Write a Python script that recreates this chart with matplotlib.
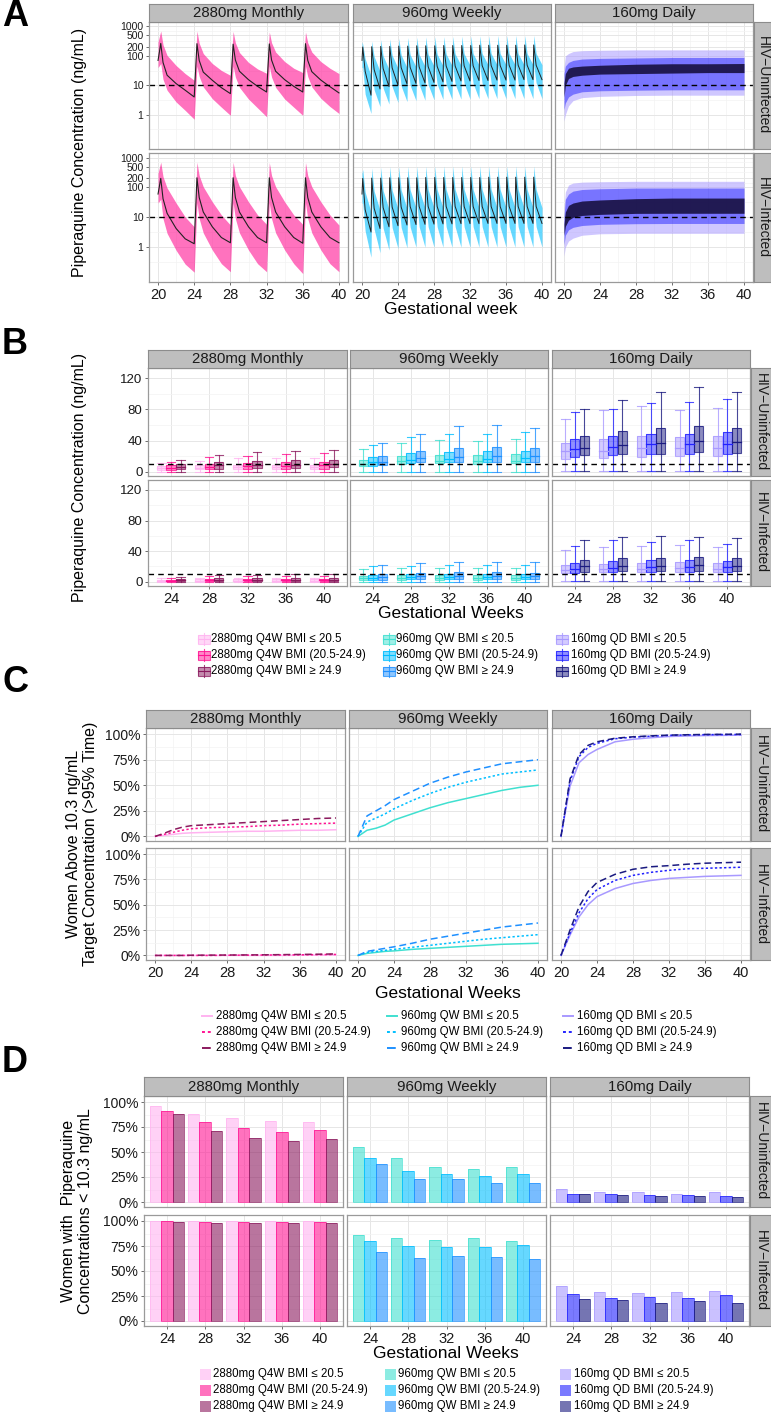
import matplotlib.pyplot as plt
from matplotlib.patches import Rectangle

plt.rcParams['font.family'] = ['Liberation Sans', 'DejaVu Sans']

W, H = 771, 1414

# ---------------- labels ----------------
regimens = ['2880mg Monthly', '960mg Weekly', '160mg Daily']
hiv_groups = ['HIV\u2212Uninfected', 'HIV\u2212Infected']
legend_labels = [
    ['2880mg Q4W BMI \u2264 20.5', '2880mg Q4W BMI (20.5-24.9)', '2880mg Q4W BMI \u2265 24.9'],
    ['960mg QW BMI \u2264 20.5', '960mg QW BMI (20.5-24.9)', '960mg QW BMI \u2265 24.9'],
    ['160mg QD BMI \u2264 20.5', '160mg QD BMI (20.5-24.9)', '160mg QD BMI \u2265 24.9'],
]
pal = [['#FFB3F0', '#FF1493', '#8B1A5E'],
       ['#40E0D0', '#00BFFF', '#1E90FF'],
       ['#A899FF', '#2222FF', '#1A1A80']]

# ---------------- panel A data ----------------
# monthly: dose weeks, offsets after dose (weeks), values [at dose, peak, +0.55, +1, +2, +3, +4]
m_doses = [20, 24, 28, 32, 36]
m_offsets = [0, 0.3, 0.55, 1, 2, 3, 4]
mu_med = [[70, 265, 60, 22, 11.4, 6.8, 4.0], [4.0, 260, 70, 28, 14.8, 8.3, 5.2], [5.2, 250, 72, 30, 15.5, 9.2, 5.9],
          [5.9, 255, 72, 30, 15.5, 9.2, 5.9], [5.9, 260, 70, 29, 15, 9, 5.5]]
mu_hi = [[300, 700, 240, 104, 47, 25, 14.8], [14.8, 700, 270, 120, 55, 32, 21.8], [21.8, 680, 280, 130, 60, 36, 25.6],
         [25.6, 650, 280, 135, 64, 38, 27], [27, 650, 280, 135, 64, 38, 25]]
mu_lo = [[40, 55, 16, 6.8, 2.7, 1.4, 0.7], [0.7, 45, 20, 8.8, 3.5, 1.8, 0.95], [0.95, 45, 19, 8.5, 3.4, 1.7, 0.85],
         [0.85, 45, 19, 8.5, 3.4, 1.8, 0.95], [0.95, 45, 20, 8.8, 3.6, 1.9, 1.1]]
mi_med = [[60, 200, 42, 13.6, 4.2, 1.9, 1.3], [1.3, 210, 46, 15, 4.8, 2.1, 1.4], [1.4, 210, 46, 15, 4.8, 2.1, 1.4],
          [1.4, 210, 46, 15, 4.8, 2.1, 1.35], [1.35, 210, 46, 15, 4.8, 2.1, 1.4]]
mi_hi = [[300, 700, 230, 96, 30, 10.2, 4.8], [4.8, 700, 250, 105, 33, 12, 5.5], [5.5, 700, 250, 105, 33, 12, 5.8],
         [5.8, 680, 250, 105, 33, 12, 5.8], [5.8, 680, 250, 105, 33, 12, 5.5]]
mi_lo = [[30, 40, 9, 2.9, 0.78, 0.27, 0.145], [0.145, 30, 9, 3.0, 0.8, 0.28, 0.15], [0.15, 30, 9, 3.0, 0.8, 0.28, 0.15],
         [0.15, 30, 9, 3.0, 0.8, 0.28, 0.13], [0.13, 30, 9, 3.0, 0.8, 0.28, 0.15]]

# weekly: per dose peak, mid-interval and trough values
w_doses = [20, 21, 22, 23, 24, 25, 26, 27, 28, 29, 30, 31, 32, 33, 34, 35, 36, 37, 38, 39]
wu_start = [70, 300, 40]  # med, hi, lo at week 20
wu_med = [[200, 205, 210, 210, 215, 215, 220, 220, 220, 225, 225, 225, 225, 230, 230, 230, 230, 230, 235, 235],
          [30, 34, 37, 39, 40, 41, 42, 43, 44, 45, 45, 46, 46, 47, 47, 47, 48, 48, 48, 48],
          [4.6, 7.5, 9, 10, 11, 11.5, 12, 12.5, 13, 13.5, 14, 14, 14.5, 14.5, 15, 15, 15, 15.5, 15.5, 15.5]]
wu_hi = [[250, 320, 360, 380, 400, 420, 430, 440, 450, 450, 460, 470, 480, 480, 490, 500, 500, 500, 500, 500],
         [80, 95, 100, 105, 108, 110, 112, 114, 115, 116, 117, 118, 119, 120, 120, 120, 120, 120, 120, 120],
         [21, 30, 35, 38, 40, 42, 44, 45, 46, 47, 48, 48, 49, 50, 50, 50, 50, 50, 50, 50]]
wu_lo = [[40, 42, 44, 45, 46, 47, 48, 48, 49, 49, 50, 50, 50, 50, 50, 50, 50, 50, 50, 50],
         [5, 7, 8, 9, 9.5, 10, 10.5, 10.5, 11, 11, 11, 11.5, 11.5, 11.5, 12, 12, 12, 12, 12, 12],
         [1.1, 1.9, 2.3, 2.6, 2.8, 3.0, 3.1, 3.2, 3.3, 3.3, 3.4, 3.4, 3.5, 3.5, 3.5, 3.5, 3.5, 3.5, 3.5, 3.5]]
wi_start = [60, 300, 30]
wi_med = [[200, 205, 205, 210, 210, 210, 210, 215, 215, 215, 215, 215, 215, 215, 220, 220, 220, 220, 220, 220],
          [18, 20, 21, 22, 22, 23, 23, 23, 23, 23, 23, 23, 23, 23, 23, 23, 23, 23, 23, 23],
          [3.2, 4.2, 4.8, 5.2, 5.5, 5.7, 5.8, 5.9, 6.0, 6.0, 6.1, 6.1, 6.1, 6.2, 6.2, 6.2, 6.2, 6.2, 6.2, 6.2]]
wi_hi = [[400, 450, 480, 500, 500, 510, 510, 510, 520, 520, 520, 520, 520, 520, 520, 520, 520, 520, 520, 520],
         [70, 75, 78, 80, 82, 83, 84, 84, 85, 85, 85, 85, 85, 85, 85, 85, 85, 85, 85, 85],
         [15, 17, 18.5, 19.5, 20, 20.5, 20.7, 21, 21, 21, 21, 21, 21, 21, 21, 21, 21, 21, 21, 21]]
wi_lo = [[30, 30, 32, 32, 33, 33, 34, 34, 34, 34, 35, 35, 35, 35, 35, 35, 35, 35, 35, 35],
         [3.5, 4, 4.3, 4.5, 4.6, 4.7, 4.8, 4.8, 4.8, 4.8, 4.8, 4.8, 4.8, 4.8, 4.8, 4.8, 4.8, 4.8, 4.8, 4.8],
         [0.46, 0.65, 0.8, 0.9, 0.95, 1.0, 1.0, 1.0, 1.0, 1.0, 1.0, 1.0, 1.0, 1.0, 1.0, 1.0, 1.0, 1.0, 1.0, 1.0]]

# daily: envelopes of the bands
d_times = [20, 20.15, 20.5, 21, 22, 24, 28, 32, 36, 40]
du_outer = [[0.6, 1.0, 2.0, 3.0, 3.8, 4.2, 4.5, 4.6, 4.6, 4.6], [40, 100, 120, 140, 150, 155, 160, 160, 160, 160]]
du_inner = [[1.5, 2.5, 4.0, 5.0, 6.0, 6.5, 6.8, 7.0, 7.0, 7.0], [25, 45, 60, 70, 78, 82, 85, 88, 88, 88]]
du_med = [[4, 10, 17, 20, 22, 24, 25, 26, 27, 27], [12, 25, 38, 42, 45, 48, 52, 54, 54, 55]]
di_outer = [[0.5, 1.0, 1.6, 2.0, 2.5, 2.8, 2.9, 2.9, 2.9, 2.9], [20, 70, 120, 140, 150, 155, 160, 160, 160, 160]]
di_inner = [[1.2, 2.5, 3.8, 4.6, 5.3, 5.8, 6.1, 6.2, 6.2, 6.2], [10, 40, 60, 75, 85, 90, 95, 95, 95, 95]]
di_med = [[2.5, 5, 8, 10, 11.5, 12.5, 13.5, 13.6, 13.6, 13.6], [6, 15, 25, 30, 35, 38, 42, 44, 44, 44]]

# ---------------- panel B data: [low, q1, median, q3, high] per week ----------------
b_weeks = ['24', '28', '32', '36', '40']
bu_2880 = [
    [[0, 2.5, 4.5, 7, 11], [0, 3, 5, 8, 14], [0, 3, 5.5, 8.5, 18], [0, 3, 5.5, 8.5, 18], [0, 3, 5.5, 8.5, 18]],
    [[0, 2.5, 5, 8.5, 13], [0, 3, 6.5, 10, 18.5], [0, 3.5, 7, 11, 20.5], [0, 4, 7.5, 12, 22.5], [0, 4, 8, 13, 23.5]],
    [[0, 3, 6, 10.5, 15.5], [0, 4, 8, 12, 22], [0, 4.5, 8.5, 13.5, 25], [0, 5, 9, 14.5, 26], [0, 5.5, 10, 15, 27.5]]]
bu_960 = [
    [[0, 7, 10.5, 15, 29], [0, 10, 13.5, 20, 37], [0, 11, 14, 21, 41], [0, 10, 13.5, 21, 40], [0, 11, 14, 23, 42]],
    [[0, 7, 12, 19, 34], [0, 11, 15, 24, 45], [0, 12, 16, 25, 48], [0, 12, 16.5, 26, 49], [0, 13, 17, 27, 51]],
    [[0, 9, 13, 20, 37], [0, 12, 18, 27, 49], [0, 12, 19, 31, 59], [0, 13, 20, 32, 60], [0, 13, 20, 31, 56]]]
bu_160 = [
    [[1, 16, 26, 37, 68], [1, 17, 26, 42, 79], [1, 19, 30, 46, 84], [1, 20, 31, 45, 79], [1, 20, 31, 46, 82]],
    [[1, 19, 29, 42, 77], [1, 21, 32, 46, 81], [1, 23, 35, 49, 88], [1, 23, 35, 49, 89], [1, 23, 36, 51, 93]],
    [[1, 21, 31, 46, 81], [1.5, 23, 34, 52, 92], [1.5, 23, 37, 56, 102], [1, 25, 40, 59, 109], [1, 24, 38, 56, 102]]]
bi_2880 = [
    [[0, 0.5, 1.5, 2.5, 4.5], [0, 0.5, 1.5, 3, 5], [0, 0.5, 1.5, 3, 5], [0, 0.5, 1.5, 3, 5], [0, 0.5, 1.5, 3, 5]],
    [[0, 0.5, 1.5, 2.7, 5.4], [0, 0.7, 2, 3.5, 7], [0, 0.8, 2, 3.6, 7.5], [0, 0.8, 2.2, 3.8, 8], [0, 0.8, 2.2, 4, 8]],
    [[0, 0.5, 1.8, 3.6, 6.7], [0, 0.8, 2.5, 4.5, 9], [0, 0.9, 2.6, 4.8, 9.5], [0, 1, 2.8, 5, 10], [0, 1, 2.8, 5, 10]]]
bi_960 = [
    [[0, 2, 4.5, 8, 17], [0, 2.5, 5, 8.5, 18], [0, 2.5, 5, 8.5, 18.5], [0, 2.5, 5, 8.5, 18.5], [0, 2.5, 5, 8.5, 18]],
    [[0, 2.7, 5, 9, 20], [0, 3, 6, 10, 21], [0, 3, 6, 10, 21.5], [0, 3, 6, 10, 22], [0, 3, 6, 10, 22]],
    [[0, 2.7, 6, 10.3, 21.5], [0, 3.5, 7, 12, 25], [0, 3.5, 7.5, 12.5, 26.4], [0, 3.5, 7.5, 12.5, 26], [0, 3.5, 7.5, 12, 25.5]]]
bi_160 = [
    [[1, 11.6, 16, 22, 41], [1, 12.5, 17, 23.7, 45], [1, 12.5, 17, 25, 46.6], [1, 12.5, 17.5, 25.5, 48], [1, 12.5, 17, 24.5, 45]],
    [[1, 11.6, 17, 25, 47], [1, 12.5, 18.4, 27.8, 54], [1, 13, 19, 28.5, 52], [1, 13, 19.5, 29, 55], [1, 13, 19, 27, 50]],
    [[1, 13, 20, 29, 54], [1, 14, 20.6, 31, 58], [1, 14, 21, 31, 60], [1, 14.5, 21.5, 32, 58.7], [1, 14.5, 21, 31, 57]]]

# ---------------- panel C data: % women above target ----------------
c_weeks = [20, 21, 22, 23, 24, 26, 28, 30, 32, 34, 36, 38, 40]
cu_2880 = [[0, 1, 2, 3, 3.5, 4, 4.5, 5, 5, 5.5, 6, 6, 6.5],
           [0, 2, 4, 6, 7.5, 8.5, 9, 9.5, 10.5, 11, 12, 12.5, 13],
           [0, 3, 6.5, 9, 10.5, 11.5, 12.5, 13.5, 14.5, 15.5, 16.5, 17.5, 18]]
cu_960 = [[0, 6, 8, 11, 16, 22, 28, 33, 37, 41, 45, 48, 50],
          [0, 14, 18, 22, 27, 35, 42, 48, 53, 57, 61, 63, 65],
          [0, 20, 25, 30, 36, 44, 52, 58, 63, 67, 71, 73, 75]]
cu_160 = [[0, 49, 72, 80, 85, 92.5, 95, 96.5, 97.7, 98.2, 98.6, 98.8, 99],
          [0, 54, 78, 87, 91, 95.5, 97, 98, 98.8, 99.2, 99.5, 99.6, 99.7],
          [0, 56, 80, 89, 92.5, 96, 97.4, 98.3, 99, 99.4, 99.7, 99.8, 100]]
ci_2880 = [[0, 0, 0, 0, 0, 0, 0, 0, 0, 0, 0.2, 0.3, 0.4],
           [0, 0, 0, 0, 0, 0, 0.2, 0.3, 0.4, 0.5, 0.6, 0.8, 1.0],
           [0, 0, 0, 0, 0.2, 0.3, 0.4, 0.5, 0.6, 0.8, 1.0, 1.2, 1.5]]
ci_960 = [[0, 2, 3, 4, 4.5, 6, 7, 8, 9, 10, 11, 11.5, 12],
          [0, 3, 4, 5, 6, 8, 10, 12, 14, 16, 17.5, 19, 20.5],
          [0, 4, 5.5, 7, 8.5, 12, 16, 19, 22, 25, 28, 30, 32]]
ci_160 = [[0, 20, 38, 50, 58, 66, 71, 74, 76, 77, 78, 78.5, 79],
          [0, 22, 42, 56, 65, 74, 79, 82, 84, 85.5, 86, 86.5, 87],
          [0, 25, 48, 63, 72, 80, 85, 87.5, 88.6, 90, 91, 91.5, 92]]

# ---------------- panel D data: % women below target ----------------
d_weeks = ['24', '28', '32', '36', '40']
du_2880 = [[96, 88, 84, 81, 80], [91, 80, 74, 70, 72], [88, 71, 64, 61, 63]]
du_960 = [[54.7, 43.7, 35, 32.7, 34.7], [44, 31, 28, 26, 28], [38, 22.7, 23, 19, 19]]
du_160 = [[13, 10, 9.7, 8, 10], [8, 8, 7, 7, 6], [7.7, 7, 5.7, 6, 5]]
di_2880 = [[100, 100, 100, 100, 100], [99.7, 99, 99, 98.7, 98.7], [99, 98, 98.5, 98, 98]]
di_960 = [[86, 83, 80.7, 82.7, 80], [80, 75, 74, 74, 75.7], [69, 63, 65, 64, 62]]
di_160 = [[35, 28.7, 28.3, 29, 29.7], [27, 23, 24, 23, 26], [22, 20.7, 18.3, 20, 18.3]]

# ---------------- helpers ----------------
fig = plt.figure(figsize=(W / 100, H / 100), dpi=100)
LEG_SIZE = 8.3


def px_axes(x0, y0, x1, y1):
    return fig.add_axes([x0 / W, 1 - y1 / H, (x1 - x0) / W, (y1 - y0) / H])


def style(ax, left, bottom, ysize=9.5):
    for s in ax.spines.values():
        s.set_color('#9a9a9a')
        s.set_linewidth(0.9)
    ax.grid(True, which='major', color='#e6e6e6', lw=0.7)
    ax.grid(True, which='minor', color='#f3f3f3', lw=0.5)
    ax.set_axisbelow(True)
    ax.tick_params(which='major', length=2.5, width=0.6, color='#555555', labelcolor='#1a1a1a', pad=1.5)
    ax.tick_params(axis='x', labelsize=10.5)
    ax.tick_params(axis='y', labelsize=ysize)
    ax.tick_params(which='minor', length=0)
    ax.tick_params(left=left, labelleft=left, bottom=bottom, labelbottom=bottom)


def strip(x0, y0, x1, y1, text, rot=0, size=10.8):
    s = px_axes(x0, y0, x1, y1)
    s.set_xticks([])
    s.set_yticks([])
    s.set_facecolor('#bebebe')
    for sp in s.spines.values():
        sp.set_color('#8c8c8c')
        sp.set_linewidth(0.8)
    s.text(0.5, 0.5, text, ha='center', va='center', rotation=rot, fontsize=size,
           color='#1a1a1a', transform=s.transAxes)


def strips(cols, top, rows, rx0):
    for (x0, x1), name in zip(cols, regimens):
        strip(x0, top, x1, rows[0][0], name)
    for (y0, y1), name in zip(rows, hiv_groups):
        strip(rx0, y0, W, y1, name, rot=-90, size=10)


ov = fig.add_axes([0, 0, 1, 1], zorder=10)
ov.set_xlim(0, W)
ov.set_ylim(H, 0)
ov.axis('off')
ov.patch.set_alpha(0)

# ---------------- panel A ----------------
A_cols = [(149, 348), (353, 551), (555, 753)]
A_rows = [(22, 149), (153, 282)]


def monthly_curve(vals):
    t, v = [], []
    for d, row in zip(m_doses, vals):
        for o, x in zip(m_offsets, row):
            t.append(d + o)
            v.append(x)
    return t, v


def weekly_curve(start, vals):
    t, v = [20], [start]
    for d, p, m, tr in zip(w_doses, vals[0], vals[1], vals[2]):
        t += [d + 0.08, d + 0.35, d + 1]
        v += [p, m, tr]
    return t, v


A_data = [
    [(mu_lo, mu_med, mu_hi), (wu_start, wu_lo, wu_med, wu_hi), (du_outer, du_inner, du_med)],
    [(mi_lo, mi_med, mi_hi), (wi_start, wi_lo, wi_med, wi_hi), (di_outer, di_inner, di_med)],
]

for r, (y0, y1) in enumerate(A_rows):
    for c, (x0, x1) in enumerate(A_cols):
        ax = px_axes(x0, y0, x1, y1)
        ax.set_yscale('log')
        if c == 0:
            lo, med, hi = A_data[r][0]
            t, vlo = monthly_curve(lo)
            _, vhi = monthly_curve(hi)
            _, vmed = monthly_curve(med)
            ax.fill_between(t, vlo, vhi, color=pal[0][1], alpha=0.6, lw=0)
            ax.plot(t, vmed, color='#222222', lw=0.8)
        elif c == 1:
            start, lo, med, hi = A_data[r][1]
            t, vlo = weekly_curve(start[2], lo)
            _, vhi = weekly_curve(start[1], hi)
            _, vmed = weekly_curve(start[0], med)
            ax.fill_between(t, vlo, vhi, color=pal[1][1], alpha=0.6, lw=0)
            ax.plot(t, vmed, color='#222222', lw=0.7)
        else:
            outer, inner, med = A_data[r][2]
            ax.fill_between(d_times, outer[0], outer[1], color=pal[2][0], alpha=0.55, lw=0)
            ax.fill_between(d_times, inner[0], inner[1], color=pal[2][1], alpha=0.5, lw=0)
            ax.fill_between(d_times, med[0], med[1], color='#120a35', alpha=0.85, lw=0)
        ax.axhline(10, color='black', lw=1.0, ls=(0, (4, 3)))
        ax.set_xlim(19, 41)
        ax.set_ylim(0.068, 1420)
        ax.set_xticks([20, 24, 28, 32, 36, 40])
        ax.set_xticks([22, 26, 30, 34, 38], minor=True)
        ax.set_yticks([1, 10, 100, 200, 500, 1000])
        ax.set_yticklabels(['1', '10', '100', '200', '500', '1000'])
        ax.set_yticks([0.316, 3.16, 31.6, 141, 316, 707], minor=True)
        ax.set_yticklabels([], minor=True)
        style(ax, c == 0, r == 1, ysize=7.5)
strips(A_cols, 4, A_rows, 754)
ov.text(2, 16, 'A', fontsize=26, fontweight='bold', va='center', ha='left')
ov.text(80, 152, 'Piperaquine Concentration (ng/mL)', rotation=90, ha='center', va='center', fontsize=11.5)
ov.text(451, 310, 'Gestational week', ha='center', va='center', fontsize=12.5)

# ---------------- panel B ----------------
B_cols = [(148, 347), (350, 548), (552, 750)]
B_rows = [(368, 476), (480, 586)]
B_data = [[bu_2880, bu_960, bu_160], [bi_2880, bi_960, bi_160]]
offs = [-0.25, 0, 0.25]

for r, (y0, y1) in enumerate(B_rows):
    for c, (x0, x1) in enumerate(B_cols):
        ax = px_axes(x0, y0, x1, y1)
        for k in range(3):
            col = pal[c][k]
            for j, st in enumerate(B_data[r][c][k]):
                xc = j + 1 + offs[k]
                lo, q1, me, q3, hi = st
                ax.plot([xc, xc], [lo, hi], color=col, lw=0.8, alpha=0.8)
                ax.plot([xc - 0.11, xc + 0.11], [hi, hi], color=col, lw=0.8, alpha=0.8)
                ax.plot([xc - 0.11, xc + 0.11], [lo, lo], color=col, lw=0.8, alpha=0.8)
                ax.add_patch(Rectangle((xc - 0.12, q1), 0.24, q3 - q1, fc=col, alpha=0.5, ec='none'))
                ax.add_patch(Rectangle((xc - 0.12, q1), 0.24, q3 - q1, fc='none', ec=col, lw=0.8, alpha=0.8))
                ax.plot([xc - 0.12, xc + 0.12], [me, me], color=col, lw=0.9)
        ax.axhline(10.3, color='black', lw=1.0, ls=(0, (4, 3)))
        ax.set_xlim(0.4, 5.6)
        ax.set_ylim(-5.5, 133)
        ax.set_xticks([1, 2, 3, 4, 5])
        ax.set_xticklabels(b_weeks)
        ax.set_yticks([0, 40, 80, 120])
        ax.set_yticks([20, 60, 100], minor=True)
        style(ax, c == 0, r == 1)
strips(B_cols, 350, B_rows, 751)
ov.text(2, 345, 'B', fontsize=26, fontweight='bold', va='center', ha='left')
ov.text(80, 477, 'Piperaquine Concentration (ng/mL)', rotation=90, ha='center', va='center', fontsize=11.5)
ov.text(451, 614, 'Gestational Weeks', ha='center', va='center', fontsize=12.5)

leg_x = [(198, 211), (383, 396), (556, 571)]
for c, (kx, tx) in enumerate(leg_x):
    for k, ky in enumerate([639, 655, 671]):
        col = pal[c][k]
        ov.plot([kx + 6, kx + 6], [ky - 6, ky + 6], color=col, lw=0.8, alpha=0.8)
        ov.add_patch(Rectangle((kx, ky - 4.5), 12, 9, fc=col, alpha=0.5, ec='none'))
        ov.add_patch(Rectangle((kx, ky - 4.5), 12, 9, fc='none', ec=col, lw=0.8, alpha=0.8))
        ov.plot([kx, kx + 12], [ky, ky], color=col, lw=0.8)
        ov.text(tx, ky, legend_labels[c][k], ha='left', va='center', fontsize=LEG_SIZE)

# ---------------- panel C ----------------
C_cols = [(146, 345), (349, 547), (552, 750)]
C_rows = [(728, 841), (848, 960)]
C_data = [[cu_2880, cu_960, cu_160], [ci_2880, ci_960, ci_160]]
styles = ['-', (0, (1.5, 1.5)), (0, (4.5, 2.5))]

for r, (y0, y1) in enumerate(C_rows):
    for c, (x0, x1) in enumerate(C_cols):
        ax = px_axes(x0, y0, x1, y1)
        for k in range(3):
            vals = [v / 100 for v in C_data[r][c][k]]
            ax.plot(c_weeks, vals, color=pal[c][k], lw=1.1, ls=styles[k])
        ax.set_xlim(19, 41)
        ax.set_ylim(-0.045, 1.06)
        ax.set_xticks([20, 24, 28, 32, 36, 40])
        ax.set_xticks([22, 26, 30, 34, 38], minor=True)
        ax.set_yticks([0, 0.25, 0.5, 0.75, 1.0])
        ax.set_yticklabels(['0%', '25%', '50%', '75%', '100%'])
        ax.set_yticks([0.125, 0.375, 0.625, 0.875], minor=True)
        style(ax, c == 0, r == 1, ysize=10)
strips(C_cols, 710, C_rows, 751)
ov.text(2, 682, 'C', fontsize=26, fontweight='bold', va='center', ha='left')
ov.text(82, 844, 'Women Above 10.3 ng/mL\nTarget Concentration (>95% Time)', rotation=90,
        ha='center', va='center', fontsize=11.5, linespacing=1.1)
ov.text(448, 993, 'Gestational Weeks', ha='center', va='center', fontsize=12.5)

leg_x = [(202, 216), (387, 401), (563, 577)]
for c, (kx, tx) in enumerate(leg_x):
    for k, ky in enumerate([1016, 1032, 1048]):
        ov.plot([kx, kx + 10], [ky, ky], color=pal[c][k], lw=1.4, ls=styles[k])
        ov.text(tx, ky, legend_labels[c][k], ha='left', va='center', fontsize=LEG_SIZE)

# ---------------- panel D ----------------
D_cols = [(144, 343), (347, 546), (550, 749)]
D_rows = [(1096, 1207), (1215, 1326)]
D_data = [[du_2880, du_960, du_160], [di_2880, di_960, di_160]]
boffs = [-0.3, 0, 0.3]

for r, (y0, y1) in enumerate(D_rows):
    for c, (x0, x1) in enumerate(D_cols):
        ax = px_axes(x0, y0, x1, y1)
        for k in range(3):
            xs = [j + 1 + boffs[k] for j in range(5)]
            vals = [v / 100 for v in D_data[r][c][k]]
            ax.bar(xs, vals, width=0.3, color=pal[c][k], alpha=0.6, lw=0)
            ax.bar(xs, vals, width=0.3, fc='none', ec=pal[c][k], lw=0.7, alpha=0.7)
        ax.set_xlim(0.4, 5.6)
        ax.set_ylim(-0.05, 1.06)
        ax.set_xticks([1, 2, 3, 4, 5])
        ax.set_xticklabels(d_weeks)
        ax.set_yticks([0, 0.25, 0.5, 0.75, 1.0])
        ax.set_yticklabels(['0%', '25%', '50%', '75%', '100%'])
        ax.set_yticks([0.125, 0.375, 0.625, 0.875], minor=True)
        style(ax, c == 0, r == 1, ysize=10)
strips(D_cols, 1077, D_rows, 750)
ov.text(2, 1063, 'D', fontsize=26, fontweight='bold', va='center', ha='left')
ov.text(77, 1211, 'Women with  Piperaquine\nConcentrations < 10.3 ng/mL', rotation=90,
        ha='center', va='center', fontsize=11.5, linespacing=1.1)
ov.text(446, 1353, 'Gestational Weeks', ha='center', va='center', fontsize=12.5)

leg_x = [(200, 213), (385, 398), (560, 574)]
for c, (kx, tx) in enumerate(leg_x):
    for k, ky in enumerate([1374, 1390, 1406]):
        ov.add_patch(Rectangle((kx, ky - 5.5), 11, 11, fc=pal[c][k], alpha=0.6, ec='none'))
        ov.text(tx, ky, legend_labels[c][k], ha='left', va='center', fontsize=LEG_SIZE)

fig.savefig('out.png', dpi=100)
